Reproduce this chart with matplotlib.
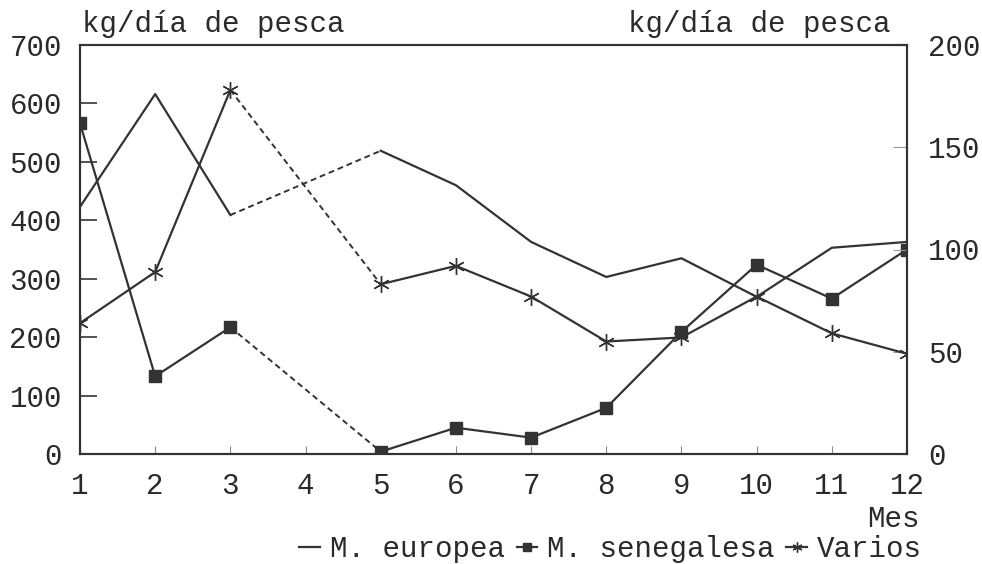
import matplotlib
matplotlib.use('Agg')
import matplotlib.pyplot as plt
import numpy as np

# months (no data for month 4)
months_a = [1, 2, 3]
months_b = [5, 6, 7, 8, 9, 10, 11, 12]

# M. europea, left axis (kg/dia de pesca)
europea_a = [423, 616, 409]
europea_b = [519, 460, 363, 303, 335, 269, 353, 363]

# M. senegalesa, left axis
senegalesa_a = [566, 133, 217]
senegalesa_b = [4, 45, 28, 79, 209, 324, 266, 350]

# Varios, right axis
varios_a = [64, 89, 178]
varios_b = [83, 92, 77, 55, 57, 77, 59, 49]

left_ticks = [0, 100, 200, 300, 400, 500, 600, 700]
right_ticks = [0, 50, 100, 150, 200]
x_ticks = [1, 2, 3, 4, 5, 6, 7, 8, 9, 10, 11, 12]

plt.rcParams['font.family'] = ['Liberation Mono', 'DejaVu Sans Mono']
col = '#333333'
txt = '#2a2a2a'
fs = 21

fig = plt.figure(figsize=(9.82, 5.64), dpi=100)
ax = fig.add_axes([80 / 982, 1 - 454 / 564, (907 - 80) / 982, (454 - 45) / 564])
ax2 = ax.twinx()


def draw(axis, ya, yb, marker, ms, label):
    # solid parts, dashed gap across month 4
    axis.plot(months_a, ya, color=col, lw=1.6, marker=marker, ms=ms, mfc=col, mec=col, label=label)
    axis.plot(months_b, yb, color=col, lw=1.6, marker=marker, ms=ms, mfc=col, mec=col)
    axis.plot([months_a[-1], months_b[0]], [ya[-1], yb[0]], color=col, lw=1.4, ls=(0, (3, 2)))


draw(ax, europea_a, europea_b, None, 0, 'M. europea')
draw(ax, senegalesa_a, senegalesa_b, 's', 9, 'M. senegalesa')
draw(ax2, varios_a, varios_b, (6, 2, 0), 12, 'Varios')

ax.set_xlim(1, 12)
ax.set_ylim(0, 700)
ax2.set_ylim(0, 200)
ax.set_xticks(x_ticks)
ax.set_yticks(left_ticks)
ax2.set_yticks(right_ticks)

for a in (ax, ax2):
    for s in a.spines.values():
        s.set_color(col)
        s.set_linewidth(1.5)
ax.tick_params(axis='y', direction='in', length=12, width=1.2, color=col,
               labelsize=fs, labelcolor=txt, pad=13)
ax.tick_params(axis='x', direction='in', length=6, width=0.8, color='#888888',
               labelsize=fs, labelcolor=txt, pad=13)
ax2.tick_params(axis='y', direction='in', length=10, width=0.8, color='#999999',
                labelsize=fs, labelcolor=txt, pad=15)

fig.text(82 / 982, 1 - 32 / 564, 'kg/día de pesca', fontsize=fs, va='baseline', ha='left', color=txt)
fig.text(890 / 982, 1 - 32 / 564, 'kg/día de pesca', fontsize=fs, va='baseline', ha='right', color=txt)
fig.text(920 / 982, 1 - 527 / 564, 'Mes', fontsize=fs, va='baseline', ha='right', color=txt)

h1, l1 = ax.get_legend_handles_labels()
h2, l2 = ax2.get_legend_handles_labels()
leg = fig.legend(h1 + h2, l1 + l2, loc='center right', bbox_to_anchor=(922 / 982, 1 - 549 / 564),
                 ncol=3, frameon=False, fontsize=fs, handlelength=0.7, handletextpad=0.35,
                 columnspacing=0.4, markerscale=0.6, borderaxespad=0, borderpad=0)
for t in leg.get_texts():
    t.set_color(txt)

fig.savefig('out.png', dpi=100)
